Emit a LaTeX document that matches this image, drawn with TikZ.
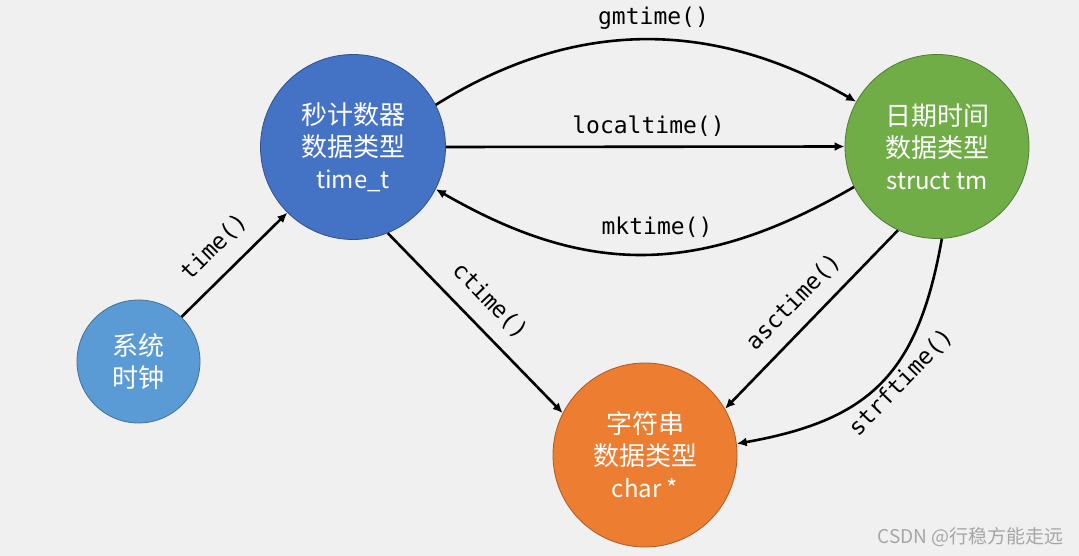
\documentclass[tikz,border=0pt]{standalone}
\usepackage{fontspec}
\newfontfamily\cjkfont{Noto Sans CJK SC}
\newfontfamily\monofont{DejaVu Sans Mono}
\usetikzlibrary{arrows.meta}
\definecolor{bgcol}{HTML}{F0F0F0}
\definecolor{cblue}{HTML}{4472C4}
\definecolor{cgreen}{HTML}{70AD47}
\definecolor{corange}{HTML}{ED7D31}
\definecolor{csky}{HTML}{5B9BD5}
\definecolor{wmgray}{HTML}{A6A6A6}
\newcommand{\latinline}[1]{{\fontsize{24}{32}\selectfont #1}}
\begin{document}
\begin{tikzpicture}[x=1pt,y=-1pt,
  state/.style={circle, fill=#1, draw=#1!72!black, line width=0.8pt, inner sep=0pt,
    minimum size=185pt, text=white, align=center,
    font=\cjkfont\fontsize{26}{32}\selectfont},
  conn/.style={line width=2.6pt, -{Latex[length=10pt,width=9pt]}},
  fn/.style={font=\monofont\fontsize{23}{28}\selectfont, inner sep=0pt}]
\fill[bgcol] (0,0) rectangle (1079,556);
\useasboundingbox (0,0) rectangle (1079,556);

\node[state=cblue] (t) at (353,147) {秒计数器\\数据类型\\\latinline{time\_t}};
\node[state=cgreen, minimum size=184pt] (g) at (937,146.5) {日期时间\\数据类型\\\latinline{struct tm}};
\node[state=corange, minimum size=184pt] (c) at (645,455) {字符串\\数据类型\\\latinline{char *}};
\node[state=csky, minimum size=123pt] (s) at (138.5,361.5) {系统\\时钟};

\draw[conn] (s.46) -- (t.225);
\draw[conn] (t.27) to[out=32,in=150,looseness=1] (g.151);
\draw[conn] (t.east) -- (g.west);
\draw[conn] (g.206) to[out=210,in=-30,looseness=1.08] (t.-27);
\draw[conn] (t.-68) -- (c.153);
\draw[conn] (g.-115) -- (c.30);
\draw[conn] (g.-87) to[out=-100,in=10,looseness=1.2] (c.7);

\node[fn, rotate=45] (ltime) at (214,247) {time()};
\node[fn] (lgm) at (653.5,18) {gmtime()};
\node[fn] (lloc) at (648.5,126.5) {localtime()};
\node[fn] (lmk) at (657,227) {mktime()};
\node[fn, rotate=-46] (lct) at (490,301) {ctime()};
\node[fn, rotate=46] (lasc) at (793.5,302) {asctime()};
\node[fn, rotate=46] (lstrf) at (901,382.5) {strftime()};

\node[anchor=east, text=wmgray, inner sep=0pt, font=\cjkfont\fontsize{19}{22}\selectfont] (wm) at (1064,537) {CSDN @行稳方能走远};
\end{tikzpicture}
\end{document}
